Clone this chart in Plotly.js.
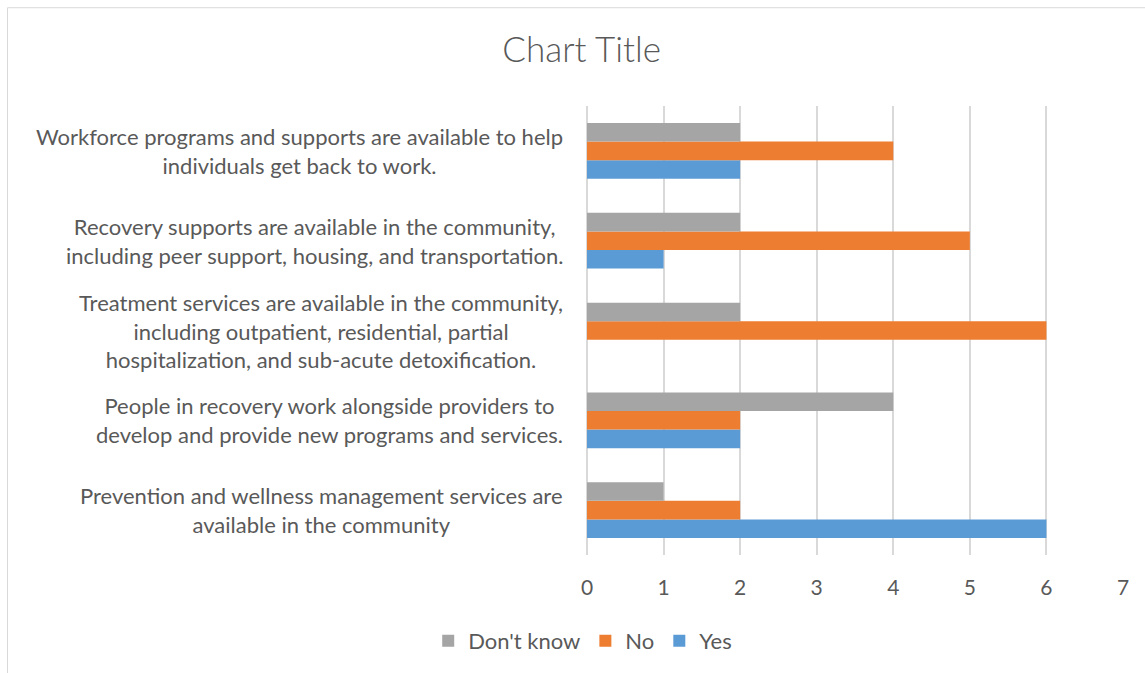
<!DOCTYPE html>
<html>
<head>
<meta charset="utf-8">
<script src="https://cdn.plot.ly/plotly-3.0.1.min.js"></script>
<style>
  html, body { margin: 0; padding: 0; background: #ffffff; }
  #chart { width: 1145px; height: 673px; }
</style>
</head>
<body>
<div id="chart"></div>
<script>
// Categories, bottom to top as drawn
const categories = [
  "Prevention and wellness management services are<br>available in the community",
  "People in recovery work alongside providers to<br>develop and provide new programs and services.",
  "Treatment services are available in the community,<br>including outpatient, residential, partial<br>hospitalization, and sub-acute detoxification.",
  "Recovery supports are available in the community,<br>including peer support, housing, and transportation.",
  "Workforce programs and supports are available to help<br>individuals get back to work."
];
const seriesNames = ["Yes", "No", "Don't know"];
const yesValues = [6, 2, 0, 1, 2];
const noValues = [2, 2, 6, 5, 4];
const dontKnowValues = [1, 4, 2, 2, 2];
const xTicks = [0, 1, 2, 3, 4, 5, 6, 7];
const chartTitle = "Chart Title";

const colors = { "Yes": "#5B9BD5", "No": "#ED7D31", "Don't know": "#A5A5A5" };
const textColor = "#595959";
const fontFamily = "Lato, 'Open Sans', sans-serif";

const valuesBySeries = [yesValues, noValues, dontKnowValues];
const traces = seriesNames.map((name, i) => ({
  type: "bar",
  orientation: "h",
  name: name,
  x: valuesBySeries[i],
  y: categories,
  marker: { color: colors[name], line: { width: 0 } },
  hoverinfo: "x+name"
}));

const annotations = categories.map(c => ({
  xref: "paper", yref: "y",
  x: -0.041, y: c,
  xanchor: "right", yanchor: "middle",
  align: "center",
  text: c,
  showarrow: false,
  font: { family: fontFamily, size: 22, color: textColor }
}));

const layout = {
  width: 1145, height: 673,
  margin: { l: 587, r: 22, t: 106, b: 117, pad: 0 },
  paper_bgcolor: "#ffffff",
  plot_bgcolor: "#ffffff",
  font: { family: fontFamily, color: textColor, size: 20 },
  title: {
    text: chartTitle,
    x: 0.508, xanchor: "center",
    y: 1 - 50 / 673, yanchor: "middle",
    font: { family: fontFamily, size: 35, color: textColor, weight: 300 }
  },
  barmode: "group",
  bargap: 0.38,
  bargroupgap: 0,
  xaxis: {
    range: [0, 7],
    tickvals: xTicks,
    ticktext: xTicks.map(String),
    showgrid: true,
    gridcolor: "#D9D9D9",
    gridwidth: 1.5,
    zeroline: true,
    zerolinecolor: "#D9D9D9",
    zerolinewidth: 1.5,
    showline: false,
    ticks: "",
    ticklabelstandoff: 18,
    tickfont: { family: fontFamily, size: 21, color: textColor },
    fixedrange: true
  },
  yaxis: {
    type: "category",
    categoryorder: "array",
    categoryarray: categories,
    showticklabels: false,
    showgrid: false,
    zeroline: false,
    showline: false,
    ticks: "",
    fixedrange: true
  },
  showlegend: true,
  legend: {
    orientation: "h",
    traceorder: "reversed",
    x: -0.008, xanchor: "center",
    y: -0.189, yanchor: "middle",
    font: { family: fontFamily, size: 22, color: textColor },
    itemclick: false, itemdoubleclick: false
  },
  annotations: annotations,
  shapes: [{
    type: "rect", xref: "paper", yref: "paper",
    x0: (7.5 - 587) / 536, x1: (1160 - 587) / 536,
    y0: (556 - 690) / 450, y1: (556 - 7.5) / 450,
    line: { color: "#D9D9D9", width: 1 },
    fillcolor: "rgba(0,0,0,0)",
    layer: "below"
  }]
};

Plotly.newPlot("chart", traces, layout, { displayModeBar: false, staticPlot: false });
</script>
</body>
</html>
